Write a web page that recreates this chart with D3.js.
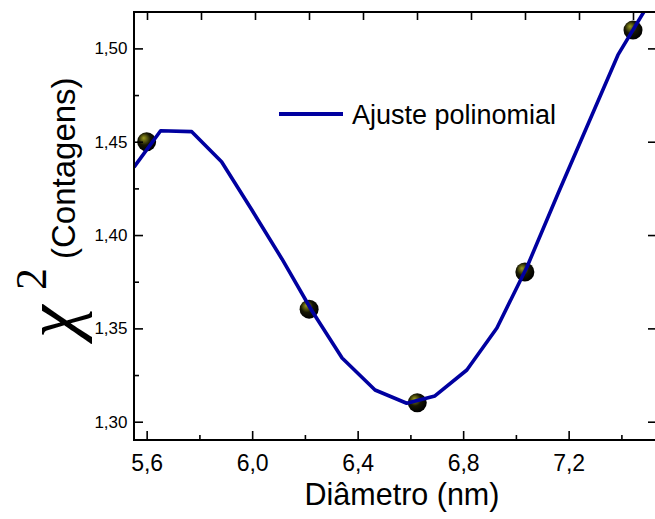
<!DOCTYPE html>
<html>
<head>
<meta charset="utf-8">
<script src="https://cdn.jsdelivr.net/npm/d3@7"></script>
<style>
  html, body { margin: 0; padding: 0; background: #fff; }
  svg { display: block; }
  text { font-family: "Liberation Sans", Arial, sans-serif; fill: #000; }
</style>
</head>
<body>
<svg id="chart" width="655" height="519"></svg>
<script>
// ---- data ----
const pointX = [5.60, 6.216, 6.626, 7.034, 7.444];
const pointY = [1.450, 1.3603, 1.3102, 1.3802, 1.5098];

const fitX = [5.552, 5.653, 5.771, 5.884, 5.999, 6.113, 6.227, 6.341, 6.466, 6.586, 6.693, 6.814, 6.928, 7.042, 7.159, 7.277, 7.387, 7.501];
const fitY = [1.4364, 1.4559, 1.4554, 1.4393, 1.4134, 1.3872, 1.3593, 1.3341, 1.3170, 1.3099, 1.3138, 1.3277, 1.3502, 1.3829, 1.4220, 1.4606, 1.4965, 1.5233];

const xMajorTicks = [5.6, 6.0, 6.4, 6.8, 7.2];
const xMajorLabels = ["5,6", "6,0", "6,4", "6,8", "7,2"];
const xMinorTicks = [5.8, 6.2, 6.6, 7.0, 7.4];
const xTopTicks = [5.6, 5.8, 6.0, 6.2, 6.4, 6.6, 6.8, 7.0, 7.2, 7.4];

const yMajorTicks = [1.30, 1.35, 1.40, 1.45, 1.50];
const yMajorLabels = ["1,30", "1,35", "1,40", "1,45", "1,50"];
const yMinorTicks = [1.325, 1.375, 1.425, 1.475];

const legendLabel = "Ajuste polinomial";
const xTitle = "Diâmetro (nm)";
const yTitleSymbol = "χ";
const yTitleSup = "2";
const yTitleText = "(Contagens)";

// ---- layout ----
const L = 134, R = 657, T = 12, B = 440;
const svg = d3.select("#chart");

const x = d3.scaleLinear().domain([5.552, 7.535]).range([L, R]);
const xTop = d3.scaleLinear().domain([5.6, 7.4]).range([147, 633]);
const y = d3.scaleLinear().domain([1.2902, 1.5195]).range([B, T]);

// gradient for markers
const defs = svg.append("defs");
const grad = defs.append("radialGradient").attr("id", "ball")
  .attr("cx", "42%").attr("cy", "40%").attr("r", "58%").attr("fx", "34%").attr("fy", "30%");
grad.append("stop").attr("offset", "0%").attr("stop-color", "#9a9a20");
grad.append("stop").attr("offset", "25%").attr("stop-color", "#606010");
grad.append("stop").attr("offset", "55%").attr("stop-color", "#161603");
grad.append("stop").attr("offset", "100%").attr("stop-color", "#000");

defs.append("clipPath").attr("id", "plotclip")
  .append("rect").attr("x", L).attr("y", T).attr("width", R - L).attr("height", B - T);

// points (under the line)
const pts = pointX.map((v, i) => ({x: v, y: pointY[i]}));
svg.append("g").selectAll("circle").data(pts).join("circle")
  .attr("cx", d => x(d.x)).attr("cy", d => y(d.y)).attr("r", 9.5)
  .attr("fill", "url(#ball)");

// fit line
const fit = fitX.map((v, i) => ({x: v, y: fitY[i]}));
svg.append("path").datum(fit)
  .attr("clip-path", "url(#plotclip)")
  .attr("fill", "none").attr("stroke", "#0000a0").attr("stroke-width", 3.6)
  .attr("stroke-linejoin", "round")
  .attr("d", d3.line().x(d => x(d.x)).y(d => y(d.y)));

// axes
function styleAxis(g) {
  g.select(".domain").remove();
  g.selectAll(".tick line").attr("stroke", "#000").attr("stroke-width", 1.6);
}

svg.append("g").attr("transform", `translate(0,${B})`)
  .call(d3.axisBottom(x).tickValues(xMajorTicks).tickSize(-9).tickPadding(14.5)
    .tickFormat((d, i) => xMajorLabels[i]))
  .call(styleAxis)
  .call(g => g.selectAll("text").style("font-size", "23px").attr("font-family", null));

svg.append("g").attr("transform", `translate(0,${B})`)
  .call(d3.axisBottom(x).tickValues(xMinorTicks).tickSize(-5).tickFormat(""))
  .call(styleAxis);

svg.append("g").attr("transform", `translate(0,${T})`)
  .call(d3.axisTop(xTop).tickValues(xTopTicks).tickSize(-8).tickFormat(""))
  .call(styleAxis);

svg.append("g").attr("transform", `translate(${L},0)`)
  .call(d3.axisLeft(y).tickValues(yMajorTicks).tickSize(-9).tickPadding(6.5)
    .tickFormat((d, i) => yMajorLabels[i]))
  .call(styleAxis)
  .call(g => g.selectAll("text").style("font-size", "17px").attr("font-family", null));

svg.append("g").attr("transform", `translate(${L},0)`)
  .call(d3.axisLeft(y).tickValues(yMinorTicks).tickSize(-5).tickFormat(""))
  .call(styleAxis);

svg.append("g").attr("transform", `translate(${R},0)`)
  .call(d3.axisRight(y).tickValues(yMajorTicks).tickSize(-9).tickFormat(""))
  .call(styleAxis);

// frame
svg.append("rect").attr("x", L).attr("y", T).attr("width", R - L).attr("height", B - T)
  .attr("fill", "none").attr("stroke", "#000").attr("stroke-width", 2);

// legend
svg.append("line").attr("x1", 279).attr("x2", 343).attr("y1", 114).attr("y2", 114)
  .attr("stroke", "#0000a0").attr("stroke-width", 4);
svg.append("text").attr("x", 352).attr("y", 124).style("font-size", "27px").text(legendLabel);

// x title
svg.append("text").attr("x", 402).attr("y", 505).attr("text-anchor", "middle")
  .style("font-size", "30.5px").text(xTitle);

// y title
svg.append("text").attr("transform", "translate(76,338) rotate(-90)")
  .style("font-family", "'Liberation Serif', serif").style("font-style", "italic")
  .style("font-size", "74px").text(yTitleSymbol);
svg.append("text").attr("transform", "translate(46,290) rotate(-90)")
  .style("font-family", "'Liberation Serif', serif")
  .style("font-size", "44px").text(yTitleSup);
svg.append("text").attr("transform", "translate(75,259) rotate(-90)")
  .style("font-size", "33px").text(yTitleText);
</script>
</body>
</html>
